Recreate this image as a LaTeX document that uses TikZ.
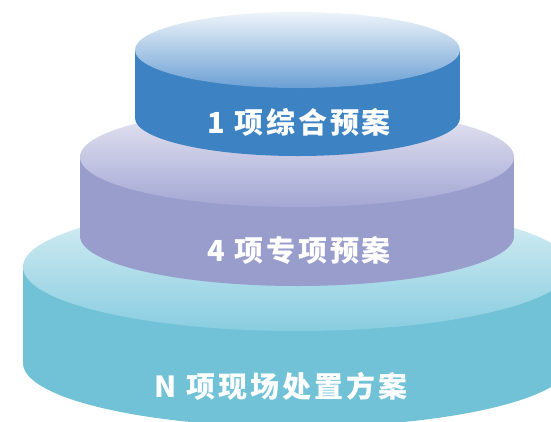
\documentclass[tikz,border=0pt]{standalone}
\usepackage{fontspec}
\newfontfamily\cjk[LetterSpace=10]{Noto Sans CJK SC}
\usepackage{xcolor}
\definecolor{TopSide}{HTML}{3D82C3}
\definecolor{TopLight}{HTML}{EEF4FA}
\definecolor{TopDark}{HTML}{6BA0D4}
\definecolor{MidSide}{HTML}{989DCC}
\definecolor{MidLight}{HTML}{E8E8F4}
\definecolor{MidDark}{HTML}{A3A7D3}
\definecolor{LowSide}{HTML}{71C2D7}
\definecolor{LowLight}{HTML}{DDF0F5}
\definecolor{LowDark}{HTML}{88CDE0}
\usepackage{tikz}
\usetikzlibrary{positioning}

\begin{document}
\begin{tikzpicture}[x=1pt, y=-1pt, every node/.style={font=\cjk\bfseries\fontsize{29}{34}\selectfont, text=white}]
\tikzset{tierlabel/.style={inner sep=0pt, anchor=center}}
\clip (0,0) rectangle (551,421);
\fill[white] (0,0) rectangle (551,421);
% tiers: cx / top y / bottom y / x radius / y radius / side / light / dark
\foreach \cx/\yt/\yb/\rx/\ry/\side/\light/\dark in {
  297/267/363/274/64/LowSide/LowLight/LowDark,
  297/157/236/217/50/MidSide/MidLight/MidDark,
  297.5/50/118/162.5/38/TopSide/TopLight/TopDark}{
  \fill[\side] (\cx-\rx,\yt) rectangle (\cx+\rx,\yb);
  \fill[\side] (\cx,\yb) ellipse [x radius=\rx, y radius=\ry];
  \shade[top color=\light, bottom color=\dark] (\cx,\yt) ellipse [x radius=\rx, y radius=\ry];
}
\node[tierlabel] (tier1) at (299,122) {1 项综合预案};
\node[tierlabel] (tier2) at (299,250) {4 项专项预案};
\node[tierlabel] (tier3) at (281,386) {N 项现场处置方案};
\end{tikzpicture}
\end{document}
